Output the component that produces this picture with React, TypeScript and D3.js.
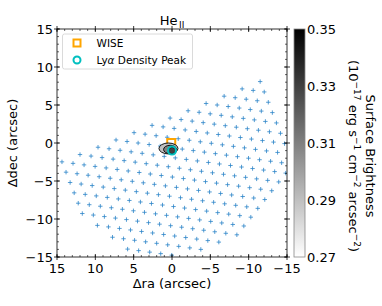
import React from "react";
import * as d3 from "d3";

// fibre positions (arcsec), one row per line of the grid
const fiberRows: [number, number][][] = [
  [[-11.5, 8.08]],
  [[-9.15, 7.12], [-10.59, 6.92], [-12.03, 6.72]],
  [[-6.8, 6.16], [-8.24, 5.96], [-9.68, 5.76], [-11.12, 5.56], [-12.56, 5.36]],
  [[-4.45, 5.2], [-5.89, 5.0], [-7.33, 4.8], [-8.77, 4.6], [-10.21, 4.4], [-11.65, 4.2], [-13.09, 4.0]],
  [[-2.1, 4.24], [-3.54, 4.04], [-4.98, 3.84], [-6.42, 3.64], [-7.86, 3.44], [-9.3, 3.24], [-10.74, 3.04], [-12.18, 2.84], [-13.62, 2.64]],
  [[0.25, 3.28], [-1.19, 3.08], [-2.63, 2.88], [-4.07, 2.68], [-5.51, 2.48], [-6.95, 2.28], [-8.39, 2.08], [-9.83, 1.88], [-11.27, 1.68], [-12.71, 1.48], [-14.15, 1.28]],
  [[2.6, 2.32], [1.16, 2.12], [-0.28, 1.92], [-1.72, 1.72], [-3.16, 1.52], [-4.6, 1.32], [-6.04, 1.12], [-7.48, 0.92], [-8.92, 0.72], [-10.36, 0.52], [-11.8, 0.32], [-13.24, 0.12], [-14.68, -0.08]],
  [[4.95, 1.36], [3.51, 1.16], [2.07, 0.96], [0.63, 0.76], [-0.81, 0.56], [-2.25, 0.36], [-3.69, 0.16], [-5.13, -0.04], [-6.57, -0.24], [-8.01, -0.44], [-9.45, -0.64], [-10.89, -0.84], [-12.33, -1.04], [-13.77, -1.24]],
  [[7.3, 0.4], [5.86, 0.2], [4.42, 0.0], [2.98, -0.2], [1.54, -0.4], [0.1, -0.6], [-1.34, -0.8], [-2.78, -1.0], [-4.22, -1.2], [-5.66, -1.4], [-7.1, -1.6], [-8.54, -1.8], [-9.98, -2.0], [-11.42, -2.2], [-12.86, -2.4], [-14.3, -2.6]],
  [[9.65, -0.56], [8.21, -0.76], [6.77, -0.96], [5.33, -1.16], [3.89, -1.36], [2.45, -1.56], [1.01, -1.76], [-0.43, -1.96], [-1.87, -2.16], [-3.31, -2.36], [-4.75, -2.56], [-6.19, -2.76], [-7.63, -2.96], [-9.07, -3.16], [-10.51, -3.36], [-11.95, -3.56], [-13.39, -3.76], [-14.83, -3.96]],
  [[12.0, -1.52], [10.56, -1.72], [9.12, -1.92], [7.68, -2.12], [6.24, -2.32], [4.8, -2.52], [3.36, -2.72], [1.92, -2.92], [0.48, -3.12], [-0.96, -3.32], [-2.4, -3.52], [-3.84, -3.72], [-5.28, -3.92], [-6.72, -4.12], [-8.16, -4.32], [-9.6, -4.52], [-11.04, -4.72], [-12.48, -4.92], [-13.92, -5.12]],
  [[14.35, -2.48], [12.91, -2.68], [11.47, -2.88], [10.03, -3.08], [8.59, -3.28], [7.15, -3.48], [5.71, -3.68], [4.27, -3.88], [2.83, -4.08], [1.39, -4.28], [-0.05, -4.48], [-1.49, -4.68], [-2.93, -4.88], [-4.37, -5.08], [-5.81, -5.28], [-7.25, -5.48], [-8.69, -5.68], [-10.13, -5.88], [-11.57, -6.08], [-13.01, -6.28]],
  [[13.82, -3.84], [12.38, -4.04], [10.94, -4.24], [9.5, -4.44], [8.06, -4.64], [6.62, -4.84], [5.18, -5.04], [3.74, -5.24], [2.3, -5.44], [0.86, -5.64], [-0.58, -5.84], [-2.02, -6.04], [-3.46, -6.24], [-4.9, -6.44], [-6.34, -6.64], [-7.78, -6.84], [-9.22, -7.04], [-10.66, -7.24], [-12.1, -7.44]],
  [[13.29, -5.2], [11.85, -5.4], [10.41, -5.6], [8.97, -5.8], [7.53, -6.0], [6.09, -6.2], [4.65, -6.4], [3.21, -6.6], [1.77, -6.8], [0.33, -7.0], [-1.11, -7.2], [-2.55, -7.4], [-3.99, -7.6], [-5.43, -7.8], [-6.87, -8.0], [-8.31, -8.2], [-9.75, -8.4], [-11.19, -8.6]],
  [[12.76, -6.56], [11.32, -6.76], [9.88, -6.96], [8.44, -7.16], [7.0, -7.36], [5.56, -7.56], [4.12, -7.76], [2.68, -7.96], [1.24, -8.16], [-0.2, -8.36], [-1.64, -8.56], [-3.08, -8.76], [-4.52, -8.96], [-5.96, -9.16], [-7.4, -9.36], [-8.84, -9.56], [-10.28, -9.76]],
  [[12.23, -7.92], [10.79, -8.12], [9.35, -8.32], [7.91, -8.52], [6.47, -8.72], [5.03, -8.92], [3.59, -9.12], [2.15, -9.32], [0.71, -9.52], [-0.73, -9.72], [-2.17, -9.92], [-3.61, -10.12], [-5.05, -10.32], [-6.49, -10.52], [-7.93, -10.72], [-9.37, -10.92]],
  [[11.7, -9.28], [10.26, -9.48], [8.82, -9.68], [7.38, -9.88], [5.94, -10.08], [4.5, -10.28], [3.06, -10.48], [1.62, -10.68], [0.18, -10.88], [-1.26, -11.08], [-2.7, -11.28], [-4.14, -11.48], [-5.58, -11.68], [-7.02, -11.88], [-8.46, -12.08]],
  [[9.73, -10.84], [8.29, -11.04], [6.85, -11.24], [5.41, -11.44], [3.97, -11.64], [2.53, -11.84], [1.09, -12.04], [-0.35, -12.24], [-1.79, -12.44], [-3.23, -12.64], [-4.67, -12.84], [-6.11, -13.04]],
  [[7.76, -12.4], [6.32, -12.6], [4.88, -12.8], [3.44, -13.0], [2.0, -13.2], [0.56, -13.4], [-0.88, -13.6], [-2.32, -13.8], [-3.76, -14.0]],
  [[5.79, -13.96], [4.35, -14.16], [2.91, -14.36], [1.47, -14.56], [0.03, -14.76]],
];

// He II surface brightness contours near the centre (approximate ellipses)
const contourLevels = [0.29, 0.31, 0.33];
const contourRa = [0.46, 0.25, 0.0];
const contourDec = [-0.72, -0.85, -1.0];
const contourRx = [1.24, 0.85, 0.5];
const contourRy = [0.72, 0.55, 0.42];

const wisePos: [number, number] = [0.1, 0.0];
const lyaPeakPos: [number, number] = [0.0, -1.0];

const axisTicks = [15, 10, 5, 0, -5, -10, -15];
const cbarTicks = [0.27, 0.29, 0.31, 0.33, 0.35];
const cbarRange: [number, number] = [0.27, 0.35];

const fmt = (v: number) => (v < 0 ? "\u2212" + Math.abs(v) : String(v));

export default function App() {
  const left = 57, right = 287, top = 29, bottom = 257;
  const x = d3.scaleLinear().domain([15, -15]).range([left, right]);
  const y = d3.scaleLinear().domain([15, -15]).range([top, bottom]);
  const minor = d3.range(-15, 16, 1);

  const cbX = 294, cbW = 11;
  const cbY = d3.scaleLinear().domain(cbarRange).range([bottom, top]);
  const gray = d3.scaleLinear<string>().domain(cbarRange).range(["#ffffff", "#000000"]);

  const pts = fiberRows.flat();
  const plus = "M-2.2,0H2.2M0,-2.2V2.2";
  const sx = x(0) - x(1);
  const sy = y(0) - y(1);

  return (
    <svg
      width={382}
      height={306}
      style={{ position: "absolute", left: 0, top: 0, fontFamily: "DejaVu Sans, sans-serif" }}
    >
      <defs>
        <clipPath id="plotclip">
          <rect x={left} y={top} width={right - left} height={bottom - top} />
        </clipPath>
        <linearGradient id="cbgrad" x1="0" y1="1" x2="0" y2="0">
          <stop offset="0%" stopColor={gray(cbarRange[0])} />
          <stop offset="100%" stopColor={gray(cbarRange[1])} />
        </linearGradient>
      </defs>
      <rect width={382} height={306} fill="#fff" />

      <g clipPath="url(#plotclip)">
        {pts.map(([ra, dec], i) => (
          <path
            key={i}
            d={plus}
            transform={`translate(${x(ra)},${y(dec)})`}
            stroke="#2c85c8"
            strokeOpacity={0.8}
            strokeWidth={1}
            fill="none"
          />
        ))}
        <rect
          x={x(wisePos[0]) - 4}
          y={y(wisePos[1]) - 4}
          width={8}
          height={8}
          fill="none"
          stroke="#ffa500"
          strokeWidth={2}
        />
        {contourLevels.map((lv, i) => (
          <ellipse
            key={lv}
            cx={x(contourRa[i])}
            cy={y(contourDec[i])}
            rx={Math.abs(contourRx[i] * sx)}
            ry={Math.abs(contourRy[i] * sy)}
            fill={gray(lv)}
            stroke="#000"
            strokeWidth={0.9}
          />
        ))}
        <circle
          cx={x(lyaPeakPos[0])}
          cy={y(lyaPeakPos[1])}
          r={4}
          fill="none"
          stroke="#00bfbf"
          strokeWidth={2}
        />
      </g>

      {/* frame */}
      <rect x={left} y={top} width={right - left} height={bottom - top} fill="none" stroke="#000" strokeWidth={0.8} />

      {/* ticks */}
      {minor.map((v) => (
        <g key={"m" + v} stroke="#000" strokeWidth={0.6}>
          <line x1={x(v)} x2={x(v)} y1={bottom} y2={bottom - 2} />
          <line x1={x(v)} x2={x(v)} y1={top} y2={top + 2} />
          <line y1={y(v)} y2={y(v)} x1={left} x2={left + 2} />
          <line y1={y(v)} y2={y(v)} x1={right} x2={right - 2} />
        </g>
      ))}
      {axisTicks.map((v) => (
        <g key={"M" + v} stroke="#000" strokeWidth={0.8}>
          <line x1={x(v)} x2={x(v)} y1={bottom + 3} y2={bottom - 3} />
          <line x1={x(v)} x2={x(v)} y1={top - 3} y2={top + 3} />
          <line y1={y(v)} y2={y(v)} x1={left - 3} x2={left + 3} />
          <line y1={y(v)} y2={y(v)} x1={right + 3} x2={right - 3} />
        </g>
      ))}
      {axisTicks.map((v) => (
        <text key={"xl" + v} x={x(v)} y={273} fontSize={13} textAnchor="middle">
          {fmt(v)}
        </text>
      ))}
      {axisTicks.map((v) => (
        <text key={"yl" + v} x={53} y={y(v)} dy="0.36em" fontSize={13} textAnchor="end">
          {fmt(v)}
        </text>
      ))}

      {/* axis labels and title */}
      <text x={(left + right) / 2} y={288} fontSize={13} textAnchor="middle">
        Δra (arcsec)
      </text>
      <text transform={`translate(17,${(top + bottom) / 2}) rotate(-90)`} fontSize={13} textAnchor="middle">
        Δdec (arcsec)
      </text>
      <text x={(left + right) / 2} y={25} fontSize={13} textAnchor="middle">
        He
        <tspan fontSize={9} dx={1.5} dy={3}>II</tspan>
      </text>

      {/* legend */}
      <rect x={62.5} y={34} width={130} height={35} rx={2} fill="#fff" fillOpacity={0.8} stroke="#d0d0d0" strokeWidth={0.8} />
      <rect x={73.5} y={39.5} width={7} height={7} fill="none" stroke="#ffa500" strokeWidth={2} />
      <circle cx={77} cy={60} r={3.5} fill="none" stroke="#00bfbf" strokeWidth={2} />
      <text x={96.5} y={47} fontSize={10.5}>WISE</text>
      <text x={96.5} y={63.5} fontSize={10.5}>
        Ly<tspan fontStyle="italic">α</tspan> Density Peak
      </text>

      {/* colorbar */}
      <rect x={cbX} y={top} width={cbW} height={bottom - top} fill="url(#cbgrad)" stroke="#888" strokeWidth={0.8} />
      {cbarTicks.map((v) => (
        <text key={"c" + v} x={cbX + cbW + 2} y={cbY(v)} dy="0.36em" fontSize={13}>
          {v.toFixed(2)}
        </text>
      ))}
      <text transform={`translate(366,156) rotate(90)`} fontSize={13} textAnchor="middle">
        Surface Brightness
      </text>
      <text transform={`translate(349,156) rotate(90)`} fontSize={13} textAnchor="middle">
        (10<tspan fontSize={9} dy={-5}>−17</tspan>
        <tspan dy={5}> erg s</tspan>
        <tspan fontSize={9} dy={-5}>−1</tspan>
        <tspan dy={5}> cm</tspan>
        <tspan fontSize={9} dy={-5}>−2</tspan>
        <tspan dy={5}> arcsec</tspan>
        <tspan fontSize={9} dy={-5}>−2</tspan>
        <tspan dy={5}>)</tspan>
      </text>
    </svg>
  );
}
